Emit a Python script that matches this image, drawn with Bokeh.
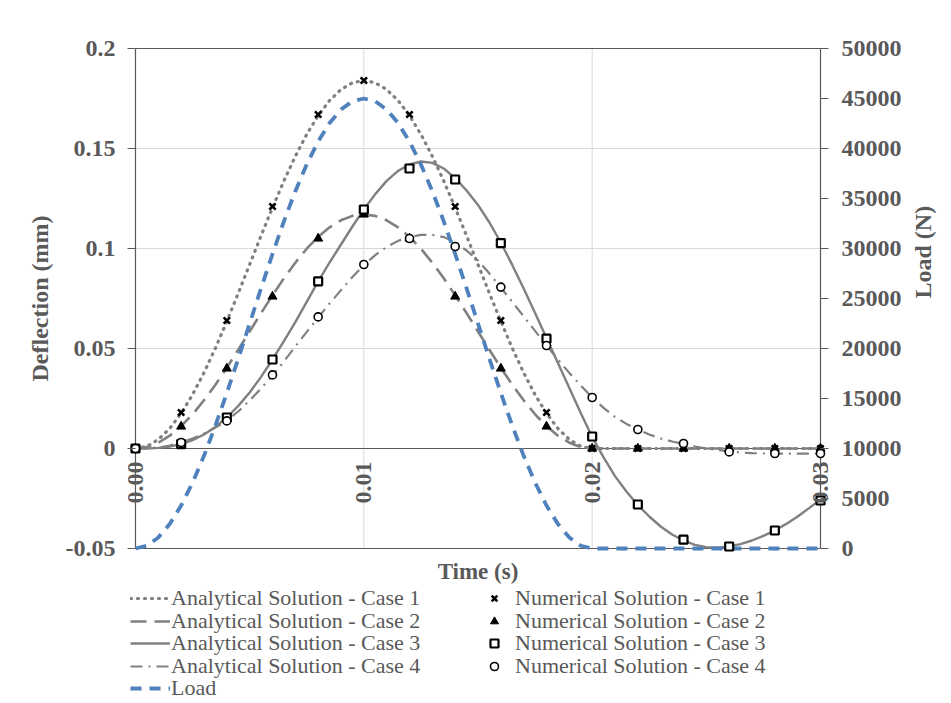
import math
from bokeh.plotting import figure
from bokeh.layouts import column
from bokeh.models import (Range1d, LinearAxis, FixedTicker, Legend, LegendItem,
                          LabelSet, ColumnDataSource)
from bokeh.embed import file_html
from bokeh.resources import INLINE

# ---------------- data ----------------
t_fine = [0.0000, 0.0005, 0.0010, 0.0015, 0.0020, 0.0025, 0.0030, 0.0035, 0.0040, 0.0045,
          0.0050, 0.0055, 0.0060, 0.0065, 0.0070, 0.0075, 0.0080, 0.0085, 0.0090, 0.0095,
          0.0100, 0.0105, 0.0110, 0.0115, 0.0120, 0.0125, 0.0130, 0.0135, 0.0140, 0.0145,
          0.0150, 0.0155, 0.0160, 0.0165, 0.0170, 0.0175, 0.0180, 0.0185, 0.0190, 0.0195,
          0.0200, 0.0205, 0.0210, 0.0215, 0.0220, 0.0225, 0.0230, 0.0235, 0.0240, 0.0245,
          0.0250, 0.0255, 0.0260, 0.0265, 0.0270, 0.0275, 0.0280, 0.0285, 0.0290, 0.0295,
          0.0300]

analytical_case1 = [0, 0.0011, 0.0045, 0.0100, 0.0176, 0.0269, 0.0379, 0.0502, 0.0636, 0.0776,
                    0.0920, 0.1064, 0.1204, 0.1338, 0.1461, 0.1571, 0.1664, 0.1740, 0.1795, 0.1829,
                    0.1840, 0.1829, 0.1795, 0.1740, 0.1664, 0.1571, 0.1461, 0.1338, 0.1204, 0.1064,
                    0.0920, 0.0776, 0.0636, 0.0502, 0.0379, 0.0269, 0.0176, 0.0100, 0.0045, 0.0011,
                    0, 0, 0, 0, 0, 0, 0, 0, 0, 0,
                    0, 0, 0, 0, 0, 0, 0, 0, 0, 0,
                    0]
analytical_case2 = [0, 0.0007, 0.0029, 0.0064, 0.0112, 0.0171, 0.0241, 0.0319, 0.0404, 0.0494,
                    0.0585, 0.0677, 0.0766, 0.0851, 0.0929, 0.0999, 0.1058, 0.1106, 0.1141, 0.1163,
                    0.1170, 0.1163, 0.1141, 0.1106, 0.1058, 0.0999, 0.0929, 0.0851, 0.0766, 0.0677,
                    0.0585, 0.0494, 0.0404, 0.0319, 0.0241, 0.0171, 0.0112, 0.0064, 0.0029, 0.0007,
                    0, 0, 0, 0, 0, 0, 0, 0, 0, 0,
                    0, 0, 0, 0, 0, 0, 0, 0, 0, 0,
                    0]
analytical_case3 = [0, 0.0000, 0.0003, 0.0010, 0.0022, 0.0042, 0.0070, 0.0108, 0.0155, 0.0213,
                    0.0280, 0.0358, 0.0445, 0.0537, 0.0632, 0.0733, 0.0836, 0.0930, 0.1020, 0.1110,
                    0.1195, 0.1272, 0.1338, 0.1388, 0.1420, 0.1435, 0.1428, 0.1400, 0.1352, 0.1290,
                    0.1218, 0.1130, 0.1030, 0.0918, 0.0800, 0.0678, 0.0553, 0.0428, 0.0302, 0.0178,
                    0.0058, -0.0044, -0.0138, -0.0215, -0.0283, -0.0340, -0.0390, -0.0430, -0.0460, -0.0482,
                    -0.0493, -0.0496, -0.0490, -0.0478, -0.0460, -0.0437, -0.0410, -0.0377, -0.0340, -0.0298,
                    -0.0255]
analytical_case4 = [0, 0.0001, 0.0005, 0.0015, 0.0030, 0.0050, 0.0075, 0.0105, 0.0140, 0.0185,
                    0.0240, 0.0300, 0.0365, 0.0435, 0.0510, 0.0583, 0.0655, 0.0725, 0.0792, 0.0857,
                    0.0917, 0.0967, 0.1008, 0.1038, 0.1057, 0.1068, 0.1068, 0.1057, 0.1032, 0.0990,
                    0.0940, 0.0875, 0.0805, 0.0733, 0.0660, 0.0588, 0.0515, 0.0445, 0.0378, 0.0315,
                    0.0255, 0.0203, 0.0158, 0.0123, 0.0095, 0.0070, 0.0050, 0.0035, 0.0023, 0.0010,
                    0.0000, -0.0008, -0.0015, -0.0020, -0.0023, -0.0025, -0.0026, -0.0026, -0.0026, -0.0026,
                    -0.0026]
load_N = [0, 277, 1100, 2450, 4300, 6590, 9270, 12290, 15550, 18980,
          22500, 26020, 29450, 32720, 35730, 38410, 40700, 42550, 43900, 44720,
          45000, 44720, 43900, 42550, 40700, 38410, 35730, 32720, 29450, 26020,
          22500, 18980, 15550, 12290, 9270, 6590, 4300, 2450, 1100, 277,
          0, 0, 0, 0, 0, 0, 0, 0, 0, 0,
          0, 0, 0, 0, 0, 0, 0, 0, 0, 0,
          0]

t_num = [0.000, 0.002, 0.004, 0.006, 0.008, 0.010, 0.012, 0.014,
         0.016, 0.018, 0.020, 0.022, 0.024, 0.026, 0.028, 0.030]
numerical_case1 = [0, 0.018, 0.064, 0.121, 0.167, 0.184, 0.167, 0.121, 0.064, 0.018, 0, 0, 0, 0, 0, 0]
numerical_case2 = [0, 0.011, 0.040, 0.076, 0.105, 0.117, 0.105, 0.076, 0.040, 0.011, 0, 0, 0, 0, 0, 0]
numerical_case3 = [0, 0.0022, 0.0155, 0.0445, 0.0836, 0.1195, 0.140, 0.1345, 0.1027, 0.0549,
                   0.006, -0.028, -0.0456, -0.049, -0.041, -0.026]
numerical_case4 = [0, 0.003, 0.0138, 0.0368, 0.0658, 0.092, 0.105, 0.101, 0.0807, 0.0515,
                   0.0255, 0.0095, 0.0025, -0.0017, -0.0025, -0.0025]

analytical_names = ["Analytical Solution - Case 1", "Analytical Solution - Case 2",
                    "Analytical Solution - Case 3", "Analytical Solution - Case 4", "Load"]
numerical_names = ["Numerical Solution - Case 1", "Numerical Solution - Case 2",
                   "Numerical Solution - Case 3", "Numerical Solution - Case 4"]

y_ticks = [-0.05, 0, 0.05, 0.1, 0.15, 0.2]
y_tick_labels = ["-0.05", "0", "0.05", "0.1", "0.15", "0.2"]
load_ticks = [0, 5000, 10000, 15000, 20000, 25000, 30000, 35000, 40000, 45000, 50000]
x_ticks = [0.00, 0.01, 0.02, 0.03]
x_tick_labels = ["0.00", "0.01", "0.02", "0.03"]
x_min, x_max = 0.0, 0.03
y_min, y_max = -0.05, 0.2
load_min, load_max = 0, 50000
y_grid = [0.05, 0.1, 0.15]
x_grid = [0.01, 0.02]

# ---------------- styles ----------------
GRAY_TXT = "#595959"
AX = "#595959"
FONT = "Liberation Serif"
LC = "#808080"
BLUE = "#4f81bd"
line_styles = [dict(line_color=LC, line_width=3.2, line_dash="1 6", line_cap="round"),
               dict(line_color=LC, line_width=2.6, line_dash="16 8"),
               dict(line_color=LC, line_width=2.4),
               dict(line_color=LC, line_width=2.2, line_dash="12 6 2 6"),
               dict(line_color=BLUE, line_width=3.8, line_dash="11 8")]
marker_styles = [dict(marker="x", size=9, line_color="black", line_width=2.6),
                 dict(marker="triangle", size=9, fill_color="black", line_color="black", line_width=1),
                 dict(marker="square", size=8, fill_color="white", line_color="black", line_width=2.2),
                 dict(marker="circle", size=8, fill_color="white", line_color="black", line_width=1.6)]

# ---------------- main figure ----------------
xpad = 0.00035
ypad = 0.003
p = figure(width=951, height=586, output_backend="svg", toolbar_location=None,
           x_range=Range1d(x_min - xpad, x_max + xpad),
           y_range=Range1d(y_min - ypad, y_max + ypad),
           min_border_left=127, min_border_right=120, min_border_top=42, min_border_bottom=32)
p.outline_line_color = None
p.background_fill_color = "white"
p.xgrid.visible = False
p.ygrid.visible = False

# load axis mapping: 0 N <-> -0.05, 50000 N <-> 0.2
scale = (load_max - load_min) / (y_max - y_min)
p.extra_y_ranges = {"load": Range1d(load_min - ypad * scale, load_max + ypad * scale)}

# grid lines
p.segment(x0=[x_min] * len(y_grid), x1=[x_max] * len(y_grid), y0=y_grid, y1=y_grid,
          line_color="#d9d9d9", line_width=1)
p.segment(x0=x_grid, x1=x_grid, y0=[y_min] * len(x_grid), y1=[y_max] * len(x_grid),
          line_color="#d9d9d9", line_width=1)
# frame / axis lines
p.segment(x0=[x_min, x_max], x1=[x_min, x_max], y0=[y_min, y_min], y1=[y_max, y_max],
          line_color=AX, line_width=1.2)
p.segment(x0=[x_min, x_min, x_min], x1=[x_max, x_max, x_max], y0=[y_min, 0, y_max],
          y1=[y_min, 0, y_max], line_color=AX, line_width=1.2)

# x axis (title only)
xa = p.xaxis[0]
xa.ticker = FixedTicker(ticks=[])
xa.axis_line_color = None
xa.major_tick_line_color = None
xa.minor_tick_line_color = None
xa.axis_label = "Time (s)"
xa.axis_label_text_font = FONT
xa.axis_label_text_font_style = "bold"
xa.axis_label_text_font_size = "23px"
xa.axis_label_text_color = GRAY_TXT
xa.axis_label_standoff = 4

# left axis
ya = p.yaxis[0]
ya.ticker = FixedTicker(ticks=y_ticks)
ya.major_label_overrides = {v: s for v, s in zip(y_ticks, y_tick_labels)}
ya.axis_line_color = None
ya.major_tick_in = 8
ya.major_tick_out = 0
ya.major_tick_line_color = AX
ya.minor_tick_line_color = None
ya.major_label_standoff = 12
ya.major_label_text_font = FONT
ya.major_label_text_font_style = "bold"
ya.major_label_text_font_size = "24px"
ya.major_label_text_color = GRAY_TXT
ya.axis_label = "Deflection (mm)"
ya.axis_label_text_font = FONT
ya.axis_label_text_font_style = "bold"
ya.axis_label_text_font_size = "24px"
ya.axis_label_text_color = GRAY_TXT
ya.axis_label_standoff = 10

# right axis
ra = LinearAxis(y_range_name="load", ticker=FixedTicker(ticks=load_ticks))
ra.axis_line_color = None
ra.major_tick_in = 8
ra.major_tick_out = 0
ra.major_tick_line_color = AX
ra.minor_tick_line_color = None
ra.major_label_standoff = 13
ra.major_label_text_font = FONT
ra.major_label_text_font_style = "bold"
ra.major_label_text_font_size = "24px"
ra.major_label_text_color = GRAY_TXT
ra.axis_label = "Load (N)"
ra.axis_label_orientation = math.pi / 2
ra.axis_label_text_font = FONT
ra.axis_label_text_font_style = "bold"
ra.axis_label_text_font_size = "24px"
ra.axis_label_text_color = GRAY_TXT
ra.axis_label_standoff = 18
p.add_layout(ra, "right")

# x tick labels along the y=0 line (rotated)
xt_src = ColumnDataSource(dict(x=x_ticks, y=[0] * len(x_ticks), text=x_tick_labels))
p.add_layout(LabelSet(x="x", y="y", text="text", source=xt_src, angle=math.pi / 2,
                      text_align="right", text_baseline="middle", y_offset=-13,
                      text_font=FONT, text_font_style="bold", text_font_size="24px",
                      text_color=GRAY_TXT))

# series
analytical_series = [analytical_case1, analytical_case2, analytical_case3, analytical_case4]
for ys, st in zip(analytical_series, line_styles[:4]):
    p.line(t_fine, ys, **st)
p.line(t_fine, load_N, y_range_name="load", **line_styles[4])
numerical_series = [numerical_case1, numerical_case2, numerical_case3, numerical_case4]
for ys, st in zip(numerical_series, marker_styles):
    p.scatter(t_num, ys, **st)

# ---------------- legend strip below ----------------
q = figure(width=951, height=117, output_backend="svg", toolbar_location=None,
           x_range=Range1d(0, 1), y_range=Range1d(0, 1),
           x_axis_location=None, y_axis_location=None, min_border=0)
q.outline_line_color = None
q.xgrid.visible = False
q.ygrid.visible = False
# legend proxies: placed outside the visible range, only their styles are used
a_rend = [q.line([-5, -4], [-5, -4], **st) for st in line_styles]
n_rend = [q.scatter([-5], [-5], **st) for st in marker_styles]

row_bottoms = [92, 69, 47, 24, 2]   # legend rows (pixels above the strip's bottom)
for i, yb in enumerate(row_bottoms):
    row_items = [LegendItem(label=analytical_names[i], renderers=[a_rend[i]])]
    if i < len(numerical_names):
        row_items.append(LegendItem(label=numerical_names[i], renderers=[n_rend[i]]))
    lg = Legend(items=row_items, location=(3, yb), orientation="horizontal")
    lg.background_fill_alpha = 0
    lg.border_line_color = None
    lg.padding = 0
    lg.margin = 0
    lg.spacing = 1
    lg.glyph_width = 40
    lg.glyph_height = 20
    lg.label_height = 20
    lg.label_width = 302
    lg.label_standoff = 1
    lg.label_text_font = FONT
    lg.label_text_font_size = "22px"
    lg.label_text_color = GRAY_TXT
    q.add_layout(lg)

open("out.html", "w").write(file_html(column(p, q), INLINE))
